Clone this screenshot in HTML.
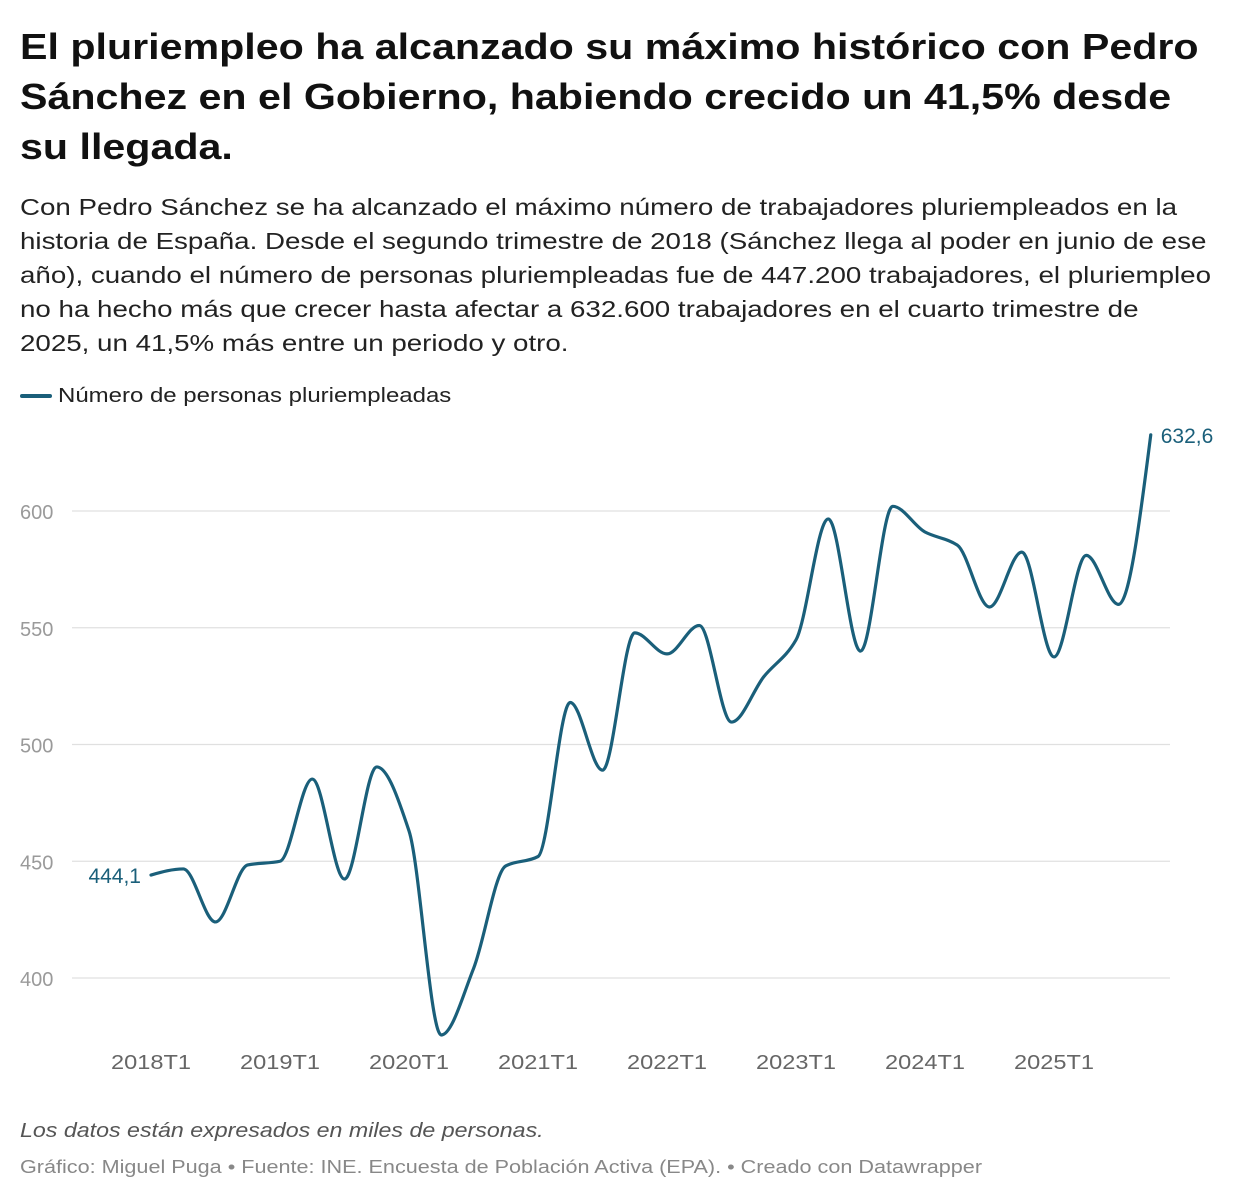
<!DOCTYPE html>
<html><head><meta charset="utf-8">
<style>
body{margin:0;background:#fff;font-family:"Liberation Sans",sans-serif;color:#181818;}
#wrap{position:relative;width:1240px;height:1200px;overflow:hidden;}
h1{position:absolute;left:20px;top:22px;margin:0;font-size:36px;line-height:50px;font-weight:bold;white-space:nowrap;color:#111;transform:scaleX(1.144);transform-origin:0 0;}
#desc{position:absolute;left:20px;top:190px;margin:0;font-size:23px;line-height:34px;white-space:nowrap;color:#222;transform:scaleX(1.205);transform-origin:0 0;}
#legend{position:absolute;left:20px;top:384px;font-size:20.5px;white-space:nowrap;color:#222;display:flex;align-items:center;}
#legend span.sw{display:inline-block;width:32px;height:4px;background:#1a5f7a;margin-right:6px;border-radius:2px;}
#legend span.lt{display:inline-block;transform:scaleX(1.17);transform-origin:0 50%;}
#note{position:absolute;left:20px;top:1120px;font-size:20px;font-style:italic;color:#555;white-space:nowrap;transform:scaleX(1.16);transform-origin:0 0;}
#credit{position:absolute;left:20px;top:1157px;font-size:18px;color:#888;white-space:nowrap;transform:scaleX(1.2);transform-origin:0 0;}
svg{position:absolute;left:0;top:0;}
</style></head><body>
<div id="wrap">
<h1>El pluriempleo ha alcanzado su máximo histórico con Pedro<br>Sánchez en el Gobierno, habiendo crecido un 41,5% desde<br>su llegada.</h1>
<p id="desc">Con Pedro Sánchez se ha alcanzado el máximo número de trabajadores pluriempleados en la<br>historia de España. Desde el segundo trimestre de 2018 (Sánchez llega al poder en junio de ese<br>año), cuando el número de personas pluriempleadas fue de 447.200 trabajadores, el pluriempleo<br>no ha hecho más que crecer hasta afectar a 632.600 trabajadores en el cuarto trimestre de<br>2025, un 41,5% más entre un periodo y otro.</p>
<div id="legend"><span class="sw"></span><span class="lt">Número de personas pluriempleadas</span></div>
<svg id="chart" width="1240" height="1200"></svg>
<div id="note">Los datos están expresados en miles de personas.</div>
<div id="credit">Gráfico: Miguel Puga • Fuente: INE. Encuesta de Población Activa (EPA). • Creado con Datawrapper</div>
</div>
<script>
const values=[444.1,446.7,424,448.4,450,485.2,442.4,490.4,463,375.6,404,448,452,518,489,547.8,538.8,551,509.6,529,544.8,596.6,540,602,591,585.4,558.9,582.4,537.5,581,560,632.6];
const yTicks=[400,450,500,550,600];
const xTickLabels=["2018T1","2019T1","2020T1","2021T1","2022T1","2023T1","2024T1","2025T1"];
const xTickIndex=[0,4,8,12,16,20,24,28];
const firstLabel="444,1", lastLabel="632,6";

const NS="http://www.w3.org/2000/svg";
const svg=document.getElementById('chart');
const x0=151,x1=1150.75;
const xs=i=>x0+(x1-x0)*i/(values.length-1);
const ys=v=>978-(v-400)*(467/200);
function mk(t,a,p){const e=document.createElementNS(NS,t);for(const k in a)e.setAttribute(k,a[k]);(p||svg).appendChild(e);return e;}
yTicks.forEach(t=>{
  const l=mk('line',{x1:72,x2:1170,y1:ys(t),y2:ys(t),stroke:'#e0e0e0','stroke-width':1.3});
  
  
  const tx=mk('text',{x:20,y:ys(t)+8,'font-size':20,fill:'#9a9a9a','font-family':'Liberation Sans, sans-serif'});
  tx.textContent=t;
  
  
});
xTickIndex.forEach((ix,k)=>{
  const tx=mk('text',{x:xs(ix),y:1069,'font-size':20,fill:'#666','text-anchor':'middle','font-family':'Liberation Sans, sans-serif','textLength':80,'lengthAdjust':'spacingAndGlyphs'});
  tx.textContent=xTickLabels[k];
  
  
});
const n=values.length,px=values.map((v,i)=>xs(i)),py=values.map(ys);
const d=[],m=new Array(n).fill(0);
for(let i=0;i<n-1;i++)d.push((py[i+1]-py[i])/(px[i+1]-px[i]));
for(let i=1;i<n-1;i++){if(d[i-1]*d[i]>0)m[i]=2/(1/d[i-1]+1/d[i]);}
m[0]=(3*d[0]-m[1])/2;m[n-1]=(3*d[n-2]-m[n-2])/2;
let path='M'+px[0]+','+py[0];
for(let i=0;i<n-1;i++){const h=(px[i+1]-px[i])/3;
  path+=` C${px[i]+h},${py[i]+m[i]*h} ${px[i+1]-h},${py[i+1]-m[i+1]*h} ${px[i+1]},${py[i+1]}`;}
const ln=mk('path',{d:path,fill:'none',stroke:'#1a5f7a','stroke-width':3.2,'stroke-linejoin':'round','stroke-linecap':'round'});


const a=mk('text',{x:px[0]-10,y:py[0]+8,'font-size':21,fill:'#1a5f7a','text-anchor':'end','font-family':'Liberation Sans, sans-serif'});
a.textContent=firstLabel;


const b=mk('text',{x:px[n-1]+10,y:py[n-1]+8,'font-size':21,fill:'#1a5f7a','font-family':'Liberation Sans, sans-serif'});
b.textContent=lastLabel;


</script>
</body></html>
